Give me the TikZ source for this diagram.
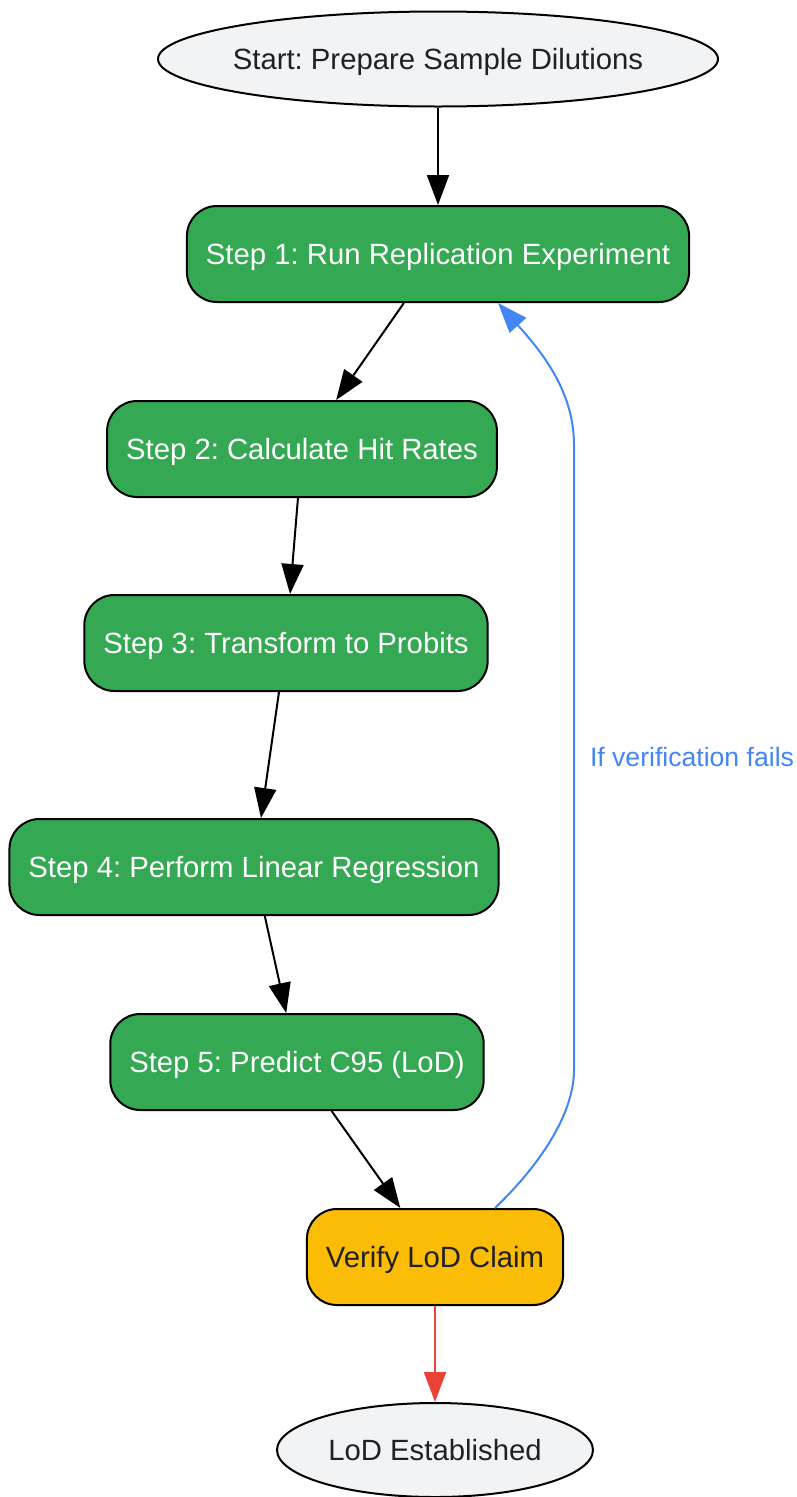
\documentclass[tikz,border=0pt]{standalone}
\usepackage{fontspec}
\setmainfont{Liberation Sans}
\usetikzlibrary{shapes.geometric,arrows.meta}
\definecolor{stepgreen}{HTML}{34A853}
\definecolor{checkyellow}{HTML}{FBBC05}
\definecolor{loopblue}{HTML}{4285F4}
\definecolor{endred}{HTML}{EA4335}
\definecolor{termgray}{HTML}{F1F3F4}
\definecolor{textdark}{HTML}{202124}
\frenchspacing

\begin{document}
\begin{tikzpicture}[x=1pt,y=-1pt,
	every node/.style={font=\fontsize{29.3}{35}\selectfont,text height=27pt,text depth=6pt},
	stepbox/.style={draw=black,line width=2pt,fill=stepgreen,text=white,
		rounded corners=30pt,minimum height=96pt,inner xsep=19pt},
	checkbox/.style={stepbox,fill=checkyellow,text=textdark},
	term/.style={ellipse,draw=black,line width=2pt,fill=termgray,
		text=textdark,inner sep=0pt},
	flow/.style={line width=2pt,-{Triangle[length=30pt,width=22pt]}}]
	\useasboundingbox (0,0) rectangle (796,1497);
	\node[term,minimum width=560pt,minimum height=95pt] (start) at (438,59) {\makebox[0pt]{Start: Prepare Sample Dilutions}};
	\node[stepbox] (s1) at (438,254) {Step 1: Run Replication Experiment};
	\node[stepbox] (s2) at (302,449) {Step 2: Calculate Hit Rates};
	\node[stepbox] (s3) at (286,643) {Step 3: Transform to Probits};
	\node[stepbox] (s4) at (254,867) {Step 4: Perform Linear Regression};
	\node[stepbox] (s5) at (297,1062) {Step 5: Predict C95 (LoD)};
	\node[checkbox] (verify) at (435,1257) {Verify LoD Claim};
	\node[term,minimum width=316pt,minimum height=94pt] (done) at (435,1450) {\makebox[0pt]{LoD Established}};
	\draw [flow] (start) -- (s1);
	\draw [flow] (s1) -- (s2);
	\draw [flow] (s2) -- (s3);
	\draw [flow] (s3) -- (s4);
	\draw [flow] (s4) -- (s5);
	\draw [flow] (s5) -- (verify);
	\draw [flow,endred] (verify) -- (done);
	% loop back when the check fails
	\coordinate (lowbend) at (574,1070);
	\coordinate (highbend) at (574,445);
	\draw [flow,loopblue] ([xshift=60pt]verify.north) .. controls (545,1160) and (574,1110) .. (lowbend)
		-- (highbend) .. controls (574,390) and (540,350) .. ([xshift=60pt]s1.south);
	\node[text=loopblue,font=\fontsize{26.6}{32}\selectfont] (fails) at (692,756) {If verification fails};
\end{tikzpicture}
\end{document}
